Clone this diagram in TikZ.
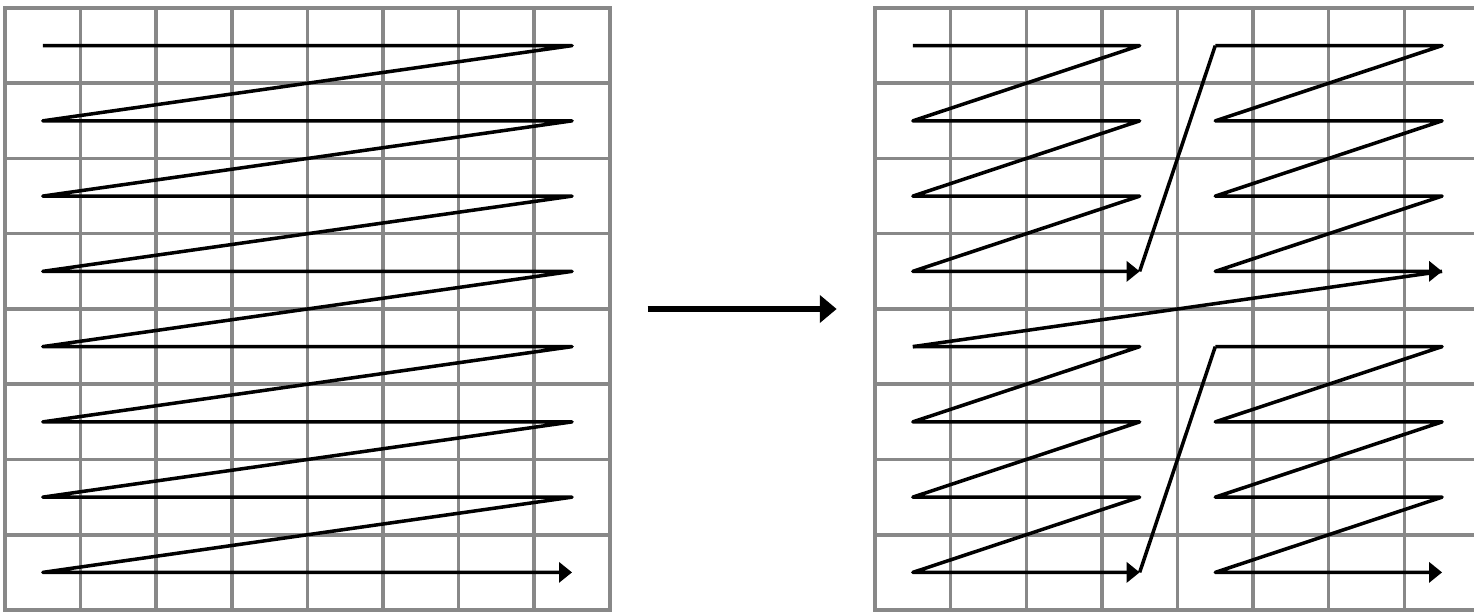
\documentclass[tikz,border=0pt]{standalone}
\usetikzlibrary{arrows.meta}
\definecolor{gridgray}{HTML}{888888}
\tikzset{
  cellline/.style={color=gridgray,line width=1pt,line cap=rect},
  scanline/.style={color=black,line width=1pt,line join=round},
  scanarrow/.style={scanline,-{Triangle[length=3.7pt,width=5.7pt]}},
}
\newcommand{\cellgrid}{%
  \foreach \i in {0,...,8} {
    \draw[cellline] (\i,0) -- (\i,8);
    \draw[cellline] (0,\i) -- (8,\i);
  }}
\newcommand{\zquad}[2]{%
  \draw[scanarrow] (#1+0.5,#2+3.5)
    foreach \r in {3,2,1} { -- (#1+3.5,#2+\r+0.5) -- (#1+0.5,#2+\r-0.5) }
    -- (#1+3.5,#2+0.5);}

\begin{document}
\begin{tikzpicture}[x=0.756cm,y=0.7525cm]
  \clip (-0.066,-0.04) rectangle (19.43,8.106);

  % row by row
  \cellgrid
  \draw[scanarrow] (0.5,7.5)
    foreach \r in {7,...,1} { -- (7.5,\r+0.5) -- (0.5,\r-0.5) }
    -- (7.5,0.5);

  \draw[line width=1.7pt,-{Triangle[length=4.8pt,width=7.7pt]}] (8.5,4) -- (11,4);

  % by quadrants
  \begin{scope}[shift={(11.508,0)}]
    \cellgrid
    \zquad{0}{4}
    \zquad{4}{4}
    \zquad{0}{0}
    \zquad{4}{0}
    \draw[scanline] (3.5,4.5) -- (4.5,7.5);
    \draw[scanline] (7.5,4.5) -- (0.5,3.5);
    \draw[scanline] (3.5,0.5) -- (4.5,3.5);
  \end{scope}
\end{tikzpicture}
\end{document}
